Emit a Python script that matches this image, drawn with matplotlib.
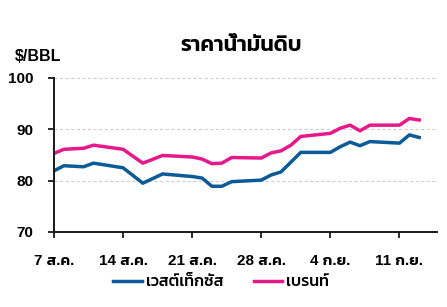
import datetime as dt
import matplotlib
matplotlib.use("Agg")
import matplotlib.pyplot as plt

# Latin from Liberation Sans, Thai glyphs from Kanit
plt.rcParams['font.family'] = ['Liberation Sans', 'Kanit', 'DejaVu Sans']
plt.rcParams['font.weight'] = 600

dates = ["2023-08-07", "2023-08-08", "2023-08-10", "2023-08-11", "2023-08-14",
         "2023-08-16", "2023-08-18", "2023-08-21", "2023-08-22", "2023-08-23",
         "2023-08-24", "2023-08-25", "2023-08-28", "2023-08-29", "2023-08-30",
         "2023-08-31", "2023-09-01", "2023-09-04", "2023-09-05", "2023-09-06",
         "2023-09-07", "2023-09-08", "2023-09-11", "2023-09-12", "2023-09-13"]
wti = [81.9, 82.9, 82.7, 83.4, 82.5, 79.5, 81.3, 80.8, 80.5, 78.9,
       78.9, 79.8, 80.1, 81.1, 81.7, 83.6, 85.5, 85.5, 86.6, 87.5,
       86.8, 87.6, 87.3, 88.9, 88.4]
brent = [85.3, 86.1, 86.3, 86.9, 86.1, 83.4, 84.9, 84.6, 84.2, 83.3,
         83.4, 84.5, 84.4, 85.4, 85.8, 86.9, 88.6, 89.2, 90.2, 90.8,
         89.7, 90.8, 90.8, 92.1, 91.8]
tick_dates = ["2023-08-07", "2023-08-14", "2023-08-21", "2023-08-28",
              "2023-09-04", "2023-09-11"]
tick_labels = ["7 ส.ค.", "14 ส.ค.", "21 ส.ค.", "28 ส.ค.", "4 ก.ย.", "11 ก.ย."]

x = [dt.datetime.strptime(d, "%Y-%m-%d") for d in dates]
xt = [dt.datetime.strptime(d, "%Y-%m-%d") for d in tick_dates]

fig = plt.figure(figsize=(4.47, 3.07), dpi=100)
ax = fig.add_axes([0.1208, 0.2443, 0.8568, 0.502])

ax.plot(x, wti, color='#0c5a97', lw=2.5, label='เวสต์เท็กซัส')
ax.plot(x, brent, color='#e6198b', lw=2.5, label='เบรนท์')

ax.set_ylim(70, 100)
ax.set_yticks([70, 80, 90, 100])
ax.set_xlim(xt[0], xt[0] + dt.timedelta(days=38.8))
ax.set_xticks(xt)
ax.set_xticklabels(tick_labels)
ax.yaxis.grid(True, ls=(0, (3, 2)), color='#d0d0d0', lw=0.8)
ax.set_axisbelow(True)
for s in ['top', 'right']:
    ax.spines[s].set_visible(False)
for s in ['left', 'bottom']:
    ax.spines[s].set_color('#1a1a1a')
    ax.spines[s].set_linewidth(1.4)
ax.tick_params(axis='both', direction='out', length=4.5, width=1.3, color='#1a1a1a',
               labelsize=11)
ax.tick_params(axis='x', pad=11.5)
ax.tick_params(axis='y', pad=10.5)

fig.text(0.54, 0.852, 'ราคาน้ำมันดิบ', ha='center', va='center', fontsize=15.5,
         fontweight=600)
fig.text(0.033, 0.815, '$/BBL', ha='left', va='center', fontsize=11.5,
         fontweight='bold')
fig.legend(loc='center', bbox_to_anchor=(0.495, 0.082), ncol=2, frameon=False,
           prop={'size': 11.5, 'weight': 500}, handlelength=1.8,
           handletextpad=0.25, columnspacing=1.9)

fig.savefig("out.png", dpi=100)
